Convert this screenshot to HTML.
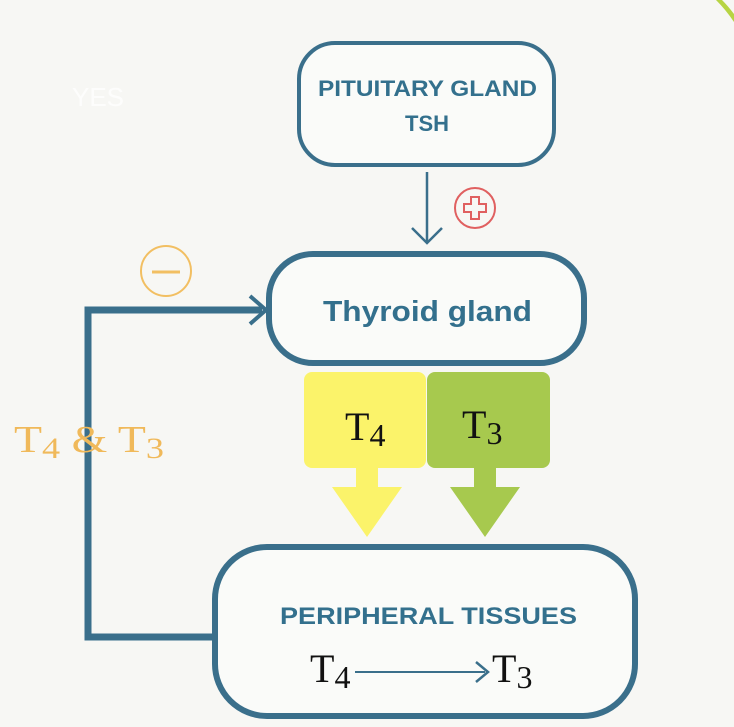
<!DOCTYPE html>
<html><head><meta charset="utf-8"><style>
html,body{margin:0;padding:0;background:#f7f7f4;}
svg{display:block}
.s{font-family:"Liberation Sans",sans-serif;font-weight:bold;fill:#33708d;}
.m{font-family:"Liberation Serif",serif;}
</style></head><body>
<svg width="734" height="727" viewBox="0 0 734 727">
<rect width="734" height="727" fill="#f7f7f4"/>
<path d="M716 0 Q726 10 734 22 L734 14 Q728 6 722 0 Z" fill="#b7d443"/>
<text x="98" y="106" font-family="Liberation Sans" font-size="26" fill="#ffffff" text-anchor="middle" opacity="0.8">YES</text>
<!-- pituitary -->
<rect x="299" y="43" width="255" height="122" rx="36" fill="#fafbf9" stroke="#3a6f8b" stroke-width="4"/>
<text class="s" x="318" y="96" font-size="22" textLength="219" lengthAdjust="spacingAndGlyphs">PITUITARY GLAND</text>
<text class="s" x="427" y="131" font-size="22" text-anchor="middle">TSH</text>
<line x1="427" y1="172" x2="427" y2="242" stroke="#3a6f8b" stroke-width="2.5"/>
<path d="M412 228 L427 243 L442 228" fill="none" stroke="#3a6f8b" stroke-width="2.5"/>
<circle cx="475" cy="208" r="20" fill="none" stroke="#e06060" stroke-width="2"/>
<path d="M471 197 h8 v7 h7 v8 h-7 v7 h-8 v-7 h-7 v-8 h7 Z" fill="none" stroke="#e06060" stroke-width="2"/>
<!-- thyroid -->
<rect x="269" y="254" width="315" height="109" rx="44" fill="#fafbf9" stroke="#3a6f8b" stroke-width="6"/>
<text class="s" x="323" y="321" font-size="29" textLength="209" lengthAdjust="spacingAndGlyphs">Thyroid gland</text>
<circle cx="166" cy="271" r="25" fill="none" stroke="#f2bf62" stroke-width="2"/>
<line x1="152" y1="272" x2="180" y2="272" stroke="#f2bf62" stroke-width="3"/>
<!-- feedback -->
<path d="M215 637 L88 637 L88 310 L262 310" fill="none" stroke="#3a6f8b" stroke-width="7"/>
<path d="M250 296 L266 310 L250 324" fill="none" stroke="#3a6f8b" stroke-width="4"/>
<text class="m" x="14" y="452" font-size="38" fill="#f0b95a" textLength="150" lengthAdjust="spacingAndGlyphs">T<tspan font-size="30" dy="6">4</tspan><tspan dy="-6"> &amp; T</tspan><tspan font-size="30" dy="6">3</tspan></text>
<!-- T4 T3 boxes -->
<rect x="304" y="372" width="122" height="96" rx="8" fill="#fbf36a"/>
<rect x="427" y="372" width="123" height="96" rx="8" fill="#a7c94e"/>
<text class="m" x="345" y="440" font-size="40" fill="#111">T<tspan font-size="32" dy="6">4</tspan></text>
<text class="m" x="462" y="438" font-size="40" fill="#111">T<tspan font-size="32" dy="6">3</tspan></text>
<path d="M356 466 h22 v21 h24 l-35 50 l-35 -50 h24 Z" fill="#fbf36a"/>
<path d="M474 466 h22 v21 h24 l-35 50 l-35 -50 h24 Z" fill="#a7c94e"/>
<!-- peripheral -->
<rect x="215" y="547" width="420" height="169" rx="52" fill="#fafbf9" stroke="#3a6f8b" stroke-width="6"/>
<text class="s" x="280" y="624" font-size="24" textLength="297" lengthAdjust="spacingAndGlyphs">PERIPHERAL TISSUES</text>
<text class="m" x="310" y="682" font-size="40" fill="#111">T<tspan font-size="32" dy="6">4</tspan></text>
<line x1="355" y1="672" x2="485" y2="672" stroke="#3a6f8b" stroke-width="2"/>
<path d="M476 662 L488 672 L476 682" fill="none" stroke="#3a6f8b" stroke-width="2.5"/>
<text class="m" x="492" y="682" font-size="40" fill="#111">T<tspan font-size="32" dy="6">3</tspan></text>
</svg>
</body></html>
